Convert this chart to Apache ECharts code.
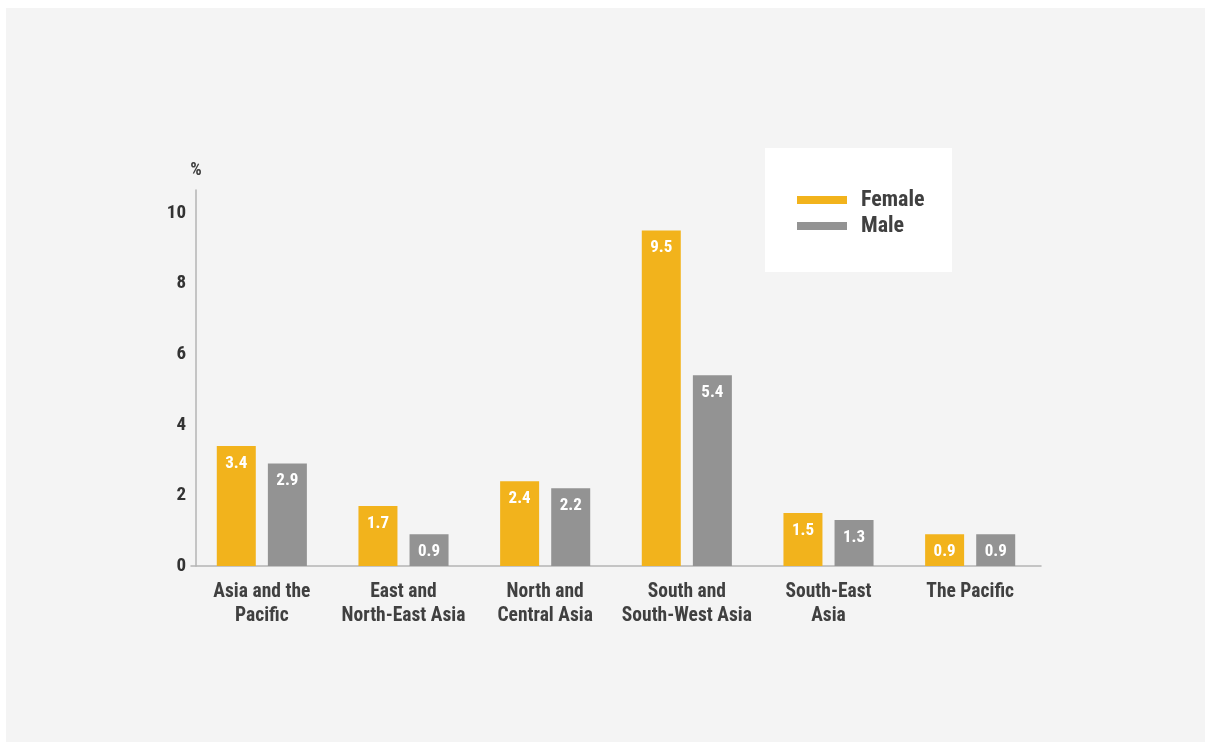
<!DOCTYPE html>
<html><head><meta charset="utf-8">
<script src="https://cdn.jsdelivr.net/npm/echarts@6/dist/echarts.min.js"></script>
<style>html,body{margin:0;padding:0;background:#fff}#c{width:1205px;height:742px}</style>
</head><body><div id="c"></div>
<script>
const categories = ['Asia and the\nPacific','East and\nNorth-East Asia','North and\nCentral Asia','South and\nSouth-West Asia','South-East\nAsia','The Pacific'];
const female = [3.4, 1.7, 2.4, 9.5, 1.5, 0.9];
const male = [2.9, 0.9, 2.2, 5.4, 1.3, 0.9];
const yTicks = [0, 2, 4, 6, 8, 10];
const FONT = "'Roboto Condensed','Liberation Sans Narrow','Roboto',sans-serif";
const chart = echarts.init(document.getElementById('c'));
chart.setOption({
  backgroundColor: '#ffffff',
  animation: false,
  graphic: [
    {type:'rect', z:-10, shape:{x:6,y:8,width:1199,height:734}, style:{fill:'#f4f4f4'}},
    {type:'rect', z:-5, shape:{x:765,y:148,width:187,height:124}, style:{fill:'#ffffff'}}
  ],
  legend: {
    orient:'vertical', left:797, top:189, padding:0, icon:'rect', itemWidth:50, itemHeight:8, itemGap:4,
    textStyle:{fontFamily:FONT, fontWeight:'bold', fontSize:22, color:'#404040', padding:[0,0,0,9]},
    data:['Female','Male']
  },
  grid: {left:191, width:850, top:190, bottom:176, containLabel:false},
  xAxis: {
    type:'category', data:categories,
    axisLine:{lineStyle:{color:'#b4b4b4', width:1.5}},
    axisTick:{show:false},
    axisLabel:{interval:0, fontFamily:FONT, fontWeight:'bold', fontSize:19.5, color:'#404040', lineHeight:24, margin:14}
  },
  yAxis: {
    type:'value', min:0, max:10.65, interval:2, offset:-5,
    name:'%', nameLocation:'end', nameGap:11,
    nameTextStyle:{fontFamily:FONT, fontWeight:'bold', fontSize:18, color:'#404040', align:'center'},
    axisLine:{show:true, lineStyle:{color:'#b4b4b4', width:1.5}},
    axisTick:{show:false}, splitLine:{show:false},
    axisLabel:{fontFamily:FONT, fontWeight:'bold', fontSize:19, color:'#333', margin:10,
      formatter: v => yTicks.includes(v) ? String(v) : ''}
  },
  series: [
    {name:'Female', type:'bar', data:female, barWidth:39, barGap:'31%', itemStyle:{color:'#f2b31c'},
     label:{show:true, position:'insideTop', distance:9, color:'#fff', fontFamily:FONT, fontWeight:'bold', fontSize:17, formatter: p => p.value.toFixed(1)}},
    {name:'Male', type:'bar', data:male, barWidth:39, itemStyle:{color:'#939393'},
     label:{show:true, position:'insideTop', distance:9, color:'#fff', fontFamily:FONT, fontWeight:'bold', fontSize:17, formatter: p => p.value.toFixed(1)}}
  ]
});
</script></body></html>
